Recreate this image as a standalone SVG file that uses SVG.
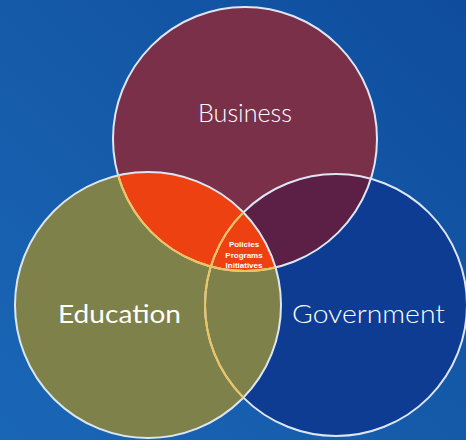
<svg xmlns="http://www.w3.org/2000/svg" width="466" height="440" viewBox="0 0 466 440">
<defs>
<linearGradient id="bg" x1="0" y1="1" x2="1" y2="0">
<stop offset="0" stop-color="#1a66b6"/>
<stop offset="0.5" stop-color="#155aa9"/>
<stop offset="1" stop-color="#0f4c9d"/>
</linearGradient>
<clipPath id="clipE"><circle cx="148" cy="305" r="133"/></clipPath>
<clipPath id="clipG"><circle cx="336" cy="305" r="131"/></clipPath>
<style>
.ring{fill:none;stroke:#dde6f3;stroke-width:2}
.ringY{fill:none;stroke:#ecc35c;stroke-width:2}
.big{font-family:"Lato","Liberation Sans",sans-serif;font-size:25px;fill:#ffffff}
.small{font-family:"Liberation Sans",sans-serif;font-size:8px;font-weight:bold;fill:#ffffff;text-anchor:middle}
</style>
</defs>
<rect width="466" height="440" fill="url(#bg)"/>
<g id="government">
<circle cx="336" cy="305" r="131" fill="#0e3c93"/>
</g>
<g id="education">
<circle cx="148" cy="305" r="133" fill="#7e8149"/>
</g>
<g id="business">
<circle cx="245" cy="139" r="132" fill="#7a3049"/>
<circle cx="245" cy="139" r="132" fill="#5c1f46" clip-path="url(#clipG)"/>
<circle cx="245" cy="139" r="132" fill="#ee4112" clip-path="url(#clipE)"/>
</g>
<g id="outlines">
<circle class="ring" cx="336" cy="305" r="131"/>
<circle class="ring" cx="148" cy="305" r="133"/>
<circle class="ring" cx="245" cy="139" r="132"/>
<g clip-path="url(#clipE)">
<circle class="ringY" cx="336" cy="305" r="131"/>
<circle class="ringY" cx="245" cy="139" r="132"/>
</g>
</g>
<g id="labels">
<text class="big" x="198" y="122" textLength="94" lengthAdjust="spacingAndGlyphs" font-weight="300">Business</text>
<text class="big" x="58" y="323" textLength="123" lengthAdjust="spacingAndGlyphs">Education</text>
<text class="big" x="292" y="323" textLength="153" lengthAdjust="spacingAndGlyphs" font-weight="300">Government</text>
</g>
<g id="center">
<text class="small" x="244" y="247">Policies</text>
<text class="small" x="244" y="257.5">Programs</text>
<text class="small" x="244" y="268">Initiatives</text>
</g>
</svg>
